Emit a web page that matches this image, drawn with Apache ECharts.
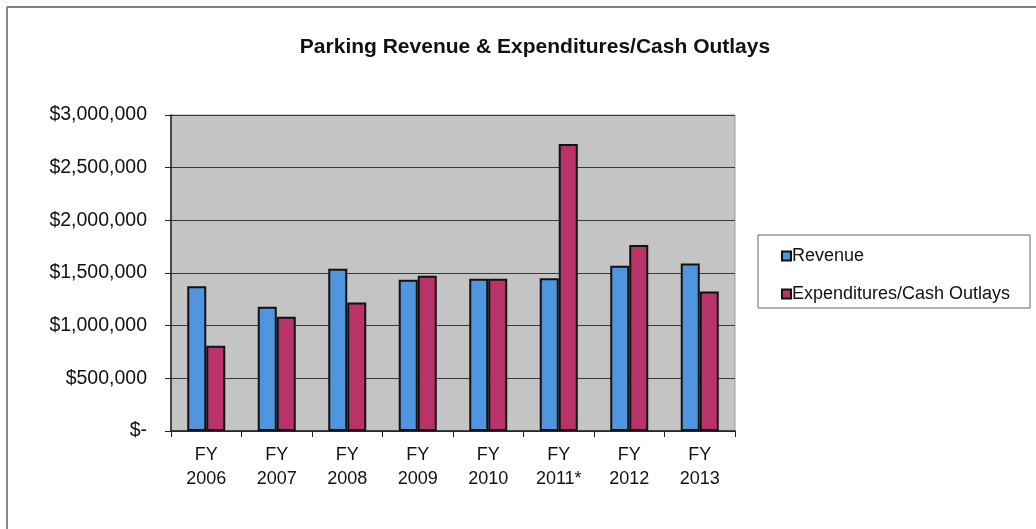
<!DOCTYPE html>
<html>
<head>
<meta charset="utf-8">
<script src="https://cdn.jsdelivr.net/npm/echarts@6/dist/echarts.min.js"></script>
<style>
html,body{margin:0;padding:0;background:#fff;}
#chart{width:1036px;height:529px;}
</style>
</head>
<body>
<div id="chart"></div>
<script>
var categories = ['FY\n2006','FY\n2007','FY\n2008','FY\n2009','FY\n2010','FY\n2011*','FY\n2012','FY\n2013'];
var revenue = [1375000, 1180000, 1540000, 1435000, 1445000, 1450000, 1570000, 1590000];
var expenditures = [810000, 1085000, 1220000, 1475000, 1445000, 2725000, 1765000, 1325000];
var seriesNames = ['Revenue', 'Expenditures/Cash Outlays'];
var titleText = 'Parking Revenue & Expenditures/Cash Outlays';

var FONT = '"Liberation Sans", Arial, sans-serif';
var chart = echarts.init(document.getElementById('chart'));
chart.setOption({
  animation: false,
  backgroundColor: '#fff',
  title: {
    text: titleText,
    left: 530, top: 32, textAlign: 'center',
    textStyle: {fontFamily: FONT, fontSize: 21, fontWeight: 'bold', color: '#111'}
  },
  graphic: [
    {type: 'line', shape: {x1: 7, y1: 7, x2: 1036, y2: 7}, style: {stroke: '#555', lineWidth: 1.5}},
    {type: 'line', shape: {x1: 7, y1: 7, x2: 7, y2: 529}, style: {stroke: '#888', lineWidth: 2}},
    {type: 'rect', shape: {x: 758, y: 235, width: 272, height: 73}, style: {fill: '#fff', stroke: '#666', lineWidth: 1}, z: -1}
  ],
  legend: {
    orient: 'vertical',
    left: 776, top: 242,
    itemWidth: 9, itemHeight: 9, itemGap: 20,
    icon: 'rect',
    textStyle: {fontFamily: FONT, fontSize: 18, color: '#111', padding: [0, 0, 0, -4]},
    data: seriesNames
  },
  grid: {left: 171, right: 301, top: 115, bottom: 98, show: true, backgroundColor: '#c4c4c4', borderWidth: 1, borderColor: '#999'},
  xAxis: {
    type: 'category',
    data: categories,
    axisLine: {lineStyle: {color: '#222', width: 1.5}},
    axisTick: {show: true, length: 6, lineStyle: {color: '#222'}},
    axisLabel: {fontFamily: FONT, fontSize: 18, color: '#111', lineHeight: 24, margin: 12}
  },
  yAxis: {
    type: 'value', min: 0, max: 3000000, interval: 500000,
    axisLine: {show: true, lineStyle: {color: '#222', width: 1.5}},
    axisTick: {show: true, length: 6, lineStyle: {color: '#222'}},
    splitLine: {lineStyle: {color: '#3a3a3a', width: 1}},
    axisLabel: {
      fontFamily: FONT, fontSize: 19.5, color: '#111', margin: 24,
      formatter: function (v) { return v === 0 ? '$-' : '$' + v.toLocaleString('en-US'); }
    }
  },
  series: [
    {name: seriesNames[0], type: 'bar', data: revenue, barWidth: 19, barGap: '0%',
     itemStyle: {color: '#5096de', borderColor: '#111', borderWidth: 2}},
    {name: seriesNames[1], type: 'bar', data: expenditures, barWidth: 19, barGap: '0%',
     itemStyle: {color: '#b8336a', borderColor: '#111', borderWidth: 2}}
  ]
});
</script>
</body>
</html>
